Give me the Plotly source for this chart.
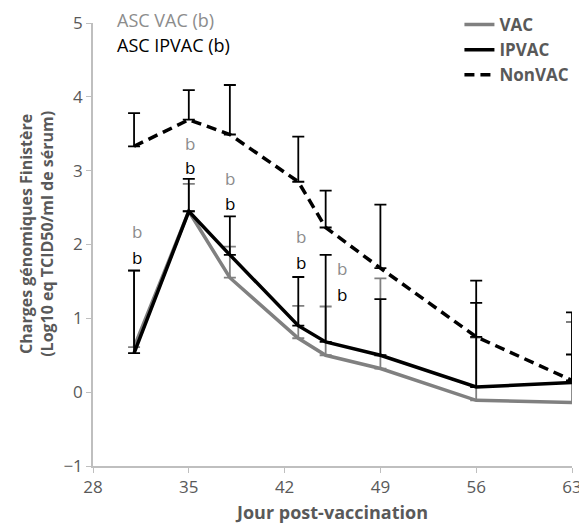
import plotly.graph_objects as go

# ---- data ----
days = [31, 35, 38, 43, 45, 49, 56, 63]
vac = [0.61, 2.45, 1.55, 0.73, 0.50, 0.32, -0.11, -0.14]
ipvac = [0.53, 2.45, 1.86, 0.90, 0.68, 0.50, 0.07, 0.13]
nonvac = [3.33, 3.69, 3.49, 2.85, 2.23, 1.68, 0.75, 0.16]
vac_err = [1.03, 0.37, 0.42, 0.44, 0.66, 1.22, 0.85, 1.09]
ipvac_err = [1.12, 0.44, 0.52, 0.66, 1.18, 0.76, 1.14, 0.38]
nonvac_err = [0.45, 0.40, 0.67, 0.61, 0.50, 0.86, 0.76, 0.92]

x_ticks = [28, 35, 42, 49, 56, 63]
y_ticks = [-1, 0, 1, 2, 3, 4, 5]

# significance letters: (x, y) label placement for VAC (gray) and IPVAC (black)
sig_vac = [(31.2, 2.17, "b"), (35.1, 3.37, "b"), (38.0, 2.90, "b"), (43.2, 2.11, "b"), (46.2, 1.68, "b")]
sig_ipvac = [(31.2, 1.83, "b"), (35.1, 3.04, "b"), (38.0, 2.56, "b"), (43.2, 1.75, "b"), (46.2, 1.32, "b")]

GRAY = "#808080"
TXT = "#595959"
FONT = "Open Sans, Lato, sans-serif"

fig = go.Figure()

def add(name, y, err, color, dash):
    fig.add_trace(go.Scatter(
        x=days, y=y, name=name, mode="lines",
        line=dict(color=color, width=3.5, dash=dash),
        error_y=dict(type="data", symmetric=False, array=err,
                     arrayminus=[0] * len(err), color=color,
                     thickness=1.8, width=6),
    ))

add("VAC", vac, vac_err, GRAY, "solid")
add("IPVAC", ipvac, ipvac_err, "black", "solid")
add("NonVAC", nonvac, nonvac_err, "black", "10px,6px")

for x, y, t in sig_vac:
    fig.add_annotation(x=x, y=y, text=t, showarrow=False,
                       font=dict(family=FONT, size=17, color="#8c8c8c"))
for x, y, t in sig_ipvac:
    fig.add_annotation(x=x, y=y, text=t, showarrow=False,
                       font=dict(family=FONT, size=17, color="black"))

fig.add_annotation(xref="paper", yref="paper", x=0.046, y=1.0, xanchor="left",
                   yanchor="middle", yshift=3, text="ASC VAC (b)", showarrow=False,
                   font=dict(family=FONT, size=18, color="#8c8c8c"))
fig.add_annotation(xref="paper", yref="paper", x=0.046, y=1.0, xanchor="left",
                   yanchor="middle", yshift=-22, text="ASC IPVAC (b)", showarrow=False,
                   font=dict(family=FONT, size=18, color="black"))

fig.add_annotation(xref="paper", yref="paper", x=-0.117, y=0.524, xanchor="center",
                   yanchor="middle", textangle=-90, showarrow=False,
                   text="<b>Charges génomiques Finistère<br>(Log10 eq TCID50/ml de sérum)</b>",
                   font=dict(family=FONT, size=16, color=TXT))

fig.update_layout(
    width=579, height=517,
    margin=dict(l=85, r=15, t=15, b=59, autoexpand=False),
    plot_bgcolor="white", paper_bgcolor="white",
    font=dict(family=FONT, size=17, color=TXT),
    showlegend=True,
    legend=dict(x=0.765, y=1.036, xanchor="left", yanchor="top",
                bgcolor="rgba(0,0,0,0)", tracegroupgap=0,
                font=dict(family=FONT, size=17, color=TXT, weight="bold")),
    xaxis=dict(range=[28, 63], tickvals=x_ticks, showgrid=False, zeroline=False,
               showline=True, linecolor="#bfbfbf", linewidth=1.5,
               ticks="outside", ticklen=5, tickcolor="#bfbfbf", automargin=False,
               tickfont=dict(family=FONT, size=17, color=TXT),
               title=dict(text="<b>Jour post-vaccination</b>", standoff=9,
                          font=dict(family=FONT, size=18, color=TXT))),
    yaxis=dict(range=[-1, 5], tickvals=y_ticks, showgrid=False, zeroline=False,
               showline=True, linecolor="#bfbfbf", linewidth=1.5,
               ticks="outside", ticklen=5, tickcolor="#bfbfbf", automargin=False,
               tickfont=dict(family=FONT, size=17, color=TXT)),
)

fig.write_html("out.html")
